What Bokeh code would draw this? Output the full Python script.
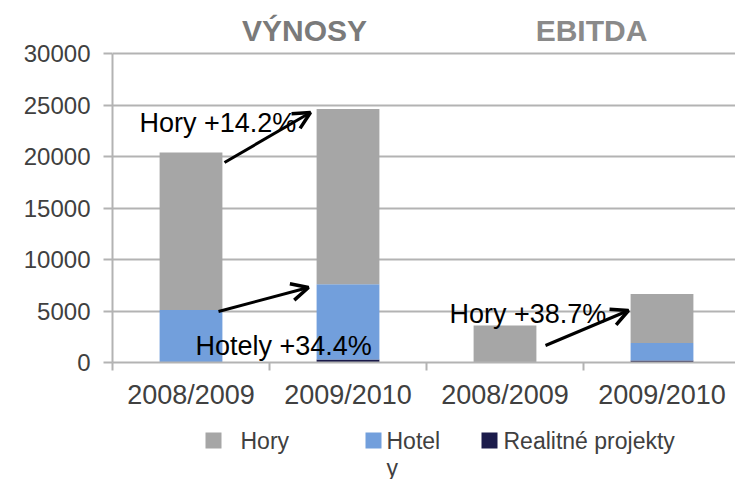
from bokeh.plotting import figure
from bokeh.layouts import column
from bokeh.models import (ColumnDataSource, Range1d, FixedTicker, Label, Arrow,
                          OpenHead, NumeralTickFormatter)
from bokeh.core.properties import value
from bokeh.embed import file_html
from bokeh.resources import INLINE

# ---- data ----
categories = ["2008/2009", "2009/2010", "2008/2009", "2009/2010"]
hory = [15300, 17000, 3600, 4750]
hotely = [5100, 7300, 0, 1700]
realitne = [0, 300, 0, 200]
series_names = ["Hory", "Hotel\ny", "Realitné projekty"]
group_titles = ["VÝNOSY", "EBITDA"]
notes = ["Hory +14.2%", "Hotely +34.4%", "Hory +38.7%"]
y_ticks = [0, 5000, 10000, 15000, 20000, 25000, 30000]

C_HORY = "#A6A6A6"
C_HOTEL = "#729FDC"
C_REAL = "#1B1B4B"
GRID = "#B3B3B3"
FONT = "Liberation Sans"

W = 735
MAIN_H = 415
LEG_H = 479 - MAIN_H

xs = [i + 0.5 for i in range(len(categories))]
src = ColumnDataSource(dict(x=xs, real=realitne, hotel=hotely, hory=hory))

# layout helpers (window px -> data coords)
FL, FT, FB = 112, 53, 362
PX_PER_CAT = 157.0
YMAX = 30000
def X(px):
    return (px - FL) / PX_PER_CAT
def Y(py):
    return (FB - py) / (FB - FT) * YMAX

p = figure(width=W, height=MAIN_H, output_backend="svg", toolbar_location=None,
           x_range=Range1d(0, (W - FL) / PX_PER_CAT), y_range=Range1d(0, Y(0)),
           min_border_left=FL, min_border_right=0, min_border_top=0,
           min_border_bottom=MAIN_H - FB)
p.outline_line_color = None
p.background_fill_color = "white"
p.border_fill_color = "white"

p.vbar_stack(["real", "hotel", "hory"], x="x", width=0.4, source=src,
             color=[C_REAL, C_HOTEL, C_HORY], line_color=None)

# y axis
p.yaxis.ticker = FixedTicker(ticks=y_ticks)
p.yaxis.bounds = (0, YMAX)
p.yaxis.formatter = NumeralTickFormatter(format="0")
p.yaxis.axis_line_color = GRID
p.yaxis.axis_line_width = 2
p.yaxis.major_tick_line_color = GRID
p.yaxis.major_tick_line_width = 2
p.yaxis.major_tick_out = 9
p.yaxis.major_tick_in = 0
p.yaxis.minor_tick_line_color = None
p.yaxis.major_label_standoff = 13
p.yaxis.major_label_text_font = FONT
p.yaxis.major_label_text_font_size = "24px"
p.yaxis.major_label_text_color = "#404040"

p.ygrid.ticker = FixedTicker(ticks=y_ticks)
p.ygrid.bounds = (0, YMAX)
p.ygrid.grid_line_color = GRID
p.ygrid.grid_line_width = 2
p.xgrid.grid_line_color = None

# x axis
p.xaxis.ticker = FixedTicker(ticks=xs, minor_ticks=list(range(len(categories))))
p.xaxis.major_label_overrides = {x: c for x, c in zip(xs, categories)}
p.xaxis.axis_line_color = GRID
p.xaxis.axis_line_width = 2
p.xaxis.major_tick_line_color = None
p.xaxis.major_tick_out = 0
p.xaxis.major_tick_in = 0
p.xaxis.minor_tick_line_color = GRID
p.xaxis.minor_tick_line_width = 2
p.xaxis.minor_tick_out = 8
p.xaxis.minor_tick_in = 0
p.xaxis.major_label_standoff = 9
p.xaxis.major_label_text_font = FONT
p.xaxis.major_label_text_font_size = "27px"
p.xaxis.major_label_text_color = "#404040"

# group titles
for t, cx, col in zip(group_titles, [304, 591], ["#7A7A7A", "#8A8A8A"]):
    p.add_layout(Label(x=X(cx), y=Y(30), text=t, text_align="center",
                       text_baseline="middle", text_font=FONT,
                       text_font_size="30px", text_font_style="bold",
                       text_color=col))

# growth notes and arrows
for t, lx, cy in zip(notes, [139, 195, 449], [122, 345, 313]):
    p.add_layout(Label(x=X(lx), y=Y(cy), text=t, text_align="left",
                       text_baseline="middle", text_font=FONT,
                       text_font_size="27px", text_color="black"))

for (x0, y0, x1, y1) in [(224, 162, 310, 112), (218, 311, 308, 287), (545, 345, 628, 310)]:
    p.add_layout(Arrow(x_start=X(x0), y_start=Y(y0), x_end=X(x1), y_end=Y(y1),
                       line_width=3, line_color="black",
                       end=OpenHead(size=17, line_width=3.5, line_color="black")))

# legend strip (window-pixel x, top-down y)
lg = figure(width=W, height=LEG_H, output_backend="svg", toolbar_location=None,
            x_range=Range1d(FL, W), y_range=Range1d(LEG_H, 0),
            min_border_left=FL, min_border_right=0, min_border_top=0,
            min_border_bottom=0)
lg.axis.visible = False
lg.grid.visible = False
lg.outline_line_color = None
lg.border_fill_color = "white"

leg_colors = [C_HORY, C_HOTEL, C_REAL]
mark_x = [205, 365, 481]
text_x = [240, 386, 503]
row_y = 440 - MAIN_H
lg.quad(left=mark_x, right=[m + 16 for m in mark_x], top=[row_y - 8] * 3,
        bottom=[row_y + 8] * 3, fill_color=leg_colors, line_color=None)
tx, ty, tt = [], [], []
for x0, name in zip(text_x, series_names):
    for k, ln in enumerate(name.split("\n")):
        tx.append(x0)
        ty.append(row_y + 27 * k)
        tt.append(ln)
lg.text(x=tx, y=ty, text=tt, text_align="left", text_baseline="middle",
        text_font=value(FONT), text_font_size="23px", text_color="#404040")

layout = column(p, lg, spacing=0)
open("out.html", "w").write(file_html(layout, INLINE))
